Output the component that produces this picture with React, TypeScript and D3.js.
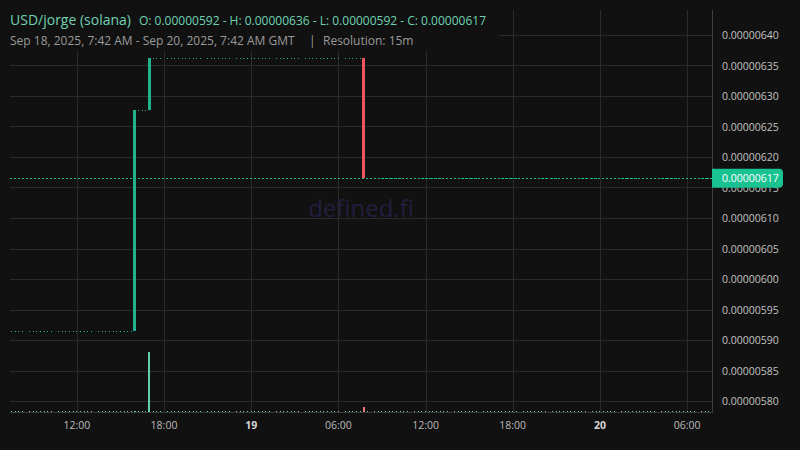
import React from "react";
import * as d3 from "d3";

// Traded 15m candles (USD per jorge); quiet intervals carry the previous close forward
const tradeTimes = [
  "2025-09-18T07:30:00Z",
  "2025-09-18T16:00:00Z",
  "2025-09-18T17:00:00Z",
  "2025-09-19T07:45:00Z",
];
const opens = [5.9152e-6, 5.9152e-6, 6.277e-6, 6.3618e-6];
const highs = [5.9152e-6, 6.277e-6, 6.3618e-6, 6.3618e-6];
const lows = [5.9152e-6, 5.9152e-6, 6.277e-6, 6.1652e-6];
const closes = [5.9152e-6, 6.277e-6, 6.3618e-6, 6.1652e-6];
const volumes = [0.3, 0.8, 96.5, 7.4];

const rangeStart = "2025-09-18T07:30:00Z";
const rangeEnd = "2025-09-20T07:30:00Z";
const resolutionMinutes = 15;

const priceTicks = [
  5.8e-6, 5.85e-6, 5.9e-6, 5.95e-6, 6.0e-6, 6.05e-6, 6.1e-6, 6.15e-6, 6.2e-6,
  6.25e-6, 6.3e-6, 6.35e-6, 6.4e-6,
];
const timeTicks = [
  "2025-09-18T12:00:00Z",
  "2025-09-18T18:00:00Z",
  "2025-09-19T00:00:00Z",
  "2025-09-19T06:00:00Z",
  "2025-09-19T12:00:00Z",
  "2025-09-19T18:00:00Z",
  "2025-09-20T00:00:00Z",
  "2025-09-20T06:00:00Z",
];
const timeTickLabels = ["12:00", "18:00", "19", "06:00", "12:00", "18:00", "20", "06:00"];
const timeTickBold = [false, false, true, false, false, false, true, false];

const W = 800;
const H = 450;
const plot = { left: 10, right: 712, top: 10, bottom: 412 };
const BG = "#111111";
const GRID = "#2b2b2b";
const UP = "#22b18f";
const DOWN = "#ef5461";
const UP_VOL = "#5fcfae";
const DOWN_VOL = "#e8727f";
const FONT = "'Open Sans', 'Noto Sans', sans-serif";

type Bar = { t: Date; o: number; h: number; l: number; c: number; v: number };

function buildBars(): Bar[] {
  const traded = new Map<number, Bar>();
  tradeTimes.forEach((s, i) => {
    const t = new Date(s);
    traded.set(+t, { t, o: opens[i], h: highs[i], l: lows[i], c: closes[i], v: volumes[i] });
  });
  const slots = d3.utcMinute.every(resolutionMinutes)!.range(
    new Date(rangeStart),
    new Date(+new Date(rangeEnd) + 1)
  );
  const bars: Bar[] = [];
  let last = closes[0];
  for (const t of slots) {
    const b = traded.get(+t);
    if (b) {
      bars.push(b);
      last = b.c;
    } else {
      bars.push({ t, o: last, h: last, l: last, c: last, v: 0 });
    }
  }
  return bars;
}

const fmt = (p: number) => p.toFixed(8);

// snap a bar of width w centred on cx to whole device pixels
function snap(cx: number, w: number) {
  const x0 = Math.round(cx - w / 2);
  const x1 = Math.round(cx + w / 2);
  return { x: x0, width: Math.max(0, x1 - x0) };
}

export default function App() {
  const bars = buildBars();
  const x = d3
    .scaleUtc()
    .domain([new Date("2025-09-18T07:24:00Z"), new Date("2025-09-20T07:43:00Z")])
    .range([plot.left, plot.right]);
  const y = d3.scaleLinear().domain([5.8e-6, 6.4e-6]).range([401, 35]);
  const vMax = d3.max(bars, (b) => b.v) ?? 1;
  const yv = d3.scaleLinear().domain([0, vMax]).range([plot.bottom, 352]);

  const first = bars[0];
  const lastBar = bars[bars.length - 1];
  const rangeHigh = d3.max(bars, (b) => b.h)!;
  const rangeLow = d3.min(bars, (b) => b.l)!;
  const lastY = y(lastBar.c);

  return (
    <svg
      width={W}
      height={H}
      style={{ position: "absolute", left: 0, top: 0, background: BG }}
      fontFamily={FONT}
    >
      <rect x={0} y={0} width={W} height={H} fill={BG} />
      <defs>
        <clipPath id="plotClip">
          <rect x={plot.left} y={plot.top} width={plot.right - plot.left} height={plot.bottom - plot.top} />
        </clipPath>
      </defs>

      {/* grid */}
      <g shapeRendering="crispEdges">
        {priceTicks.map((p) => (
          <line key={p} x1={plot.left} x2={plot.right} y1={Math.round(y(p)) + 0.5} y2={Math.round(y(p)) + 0.5} stroke={GRID} />
        ))}
        {timeTicks.map((s) => {
          const xx = Math.round(x(new Date(s))) + 0.5;
          return <line key={s} x1={xx} x2={xx} y1={plot.top} y2={plot.bottom} stroke={GRID} />;
        })}
      </g>

      {/* watermark */}
      <text
        x={(plot.left + plot.right) / 2}
        y={(plot.top + plot.bottom) / 2 - 4}
        textAnchor="middle"
        dominantBaseline="central"
        fontSize={24}
        fill="#221f3e"
      >
        defined.fi
      </text>

      <g clipPath="url(#plotClip)">
        {/* volume histogram */}
        <g shapeRendering="crispEdges">
          {bars.map((b, i) => {
            const up = b.c >= b.o;
            const hgt = Math.max(1, Math.round(plot.bottom - yv(b.v)));
            const big = b.o !== b.c;
            const s = snap(x(b.t), big ? 2 : 0.9);
            if (s.width === 0) return null;
            return (
              <rect
                key={"v" + i}
                x={s.x}
                y={plot.bottom - hgt}
                width={s.width}
                height={hgt}
                fill={up ? UP_VOL : DOWN_VOL}
              />
            );
          })}
        </g>

        {/* last price line */}
        <line
          x1={plot.left}
          x2={plot.right}
          y1={Math.round(lastY) + 0.5}
          y2={Math.round(lastY) + 0.5}
          stroke="#19c291"
          strokeDasharray="2,2"
          shapeRendering="crispEdges"
        />

        {/* candles */}
        <g shapeRendering="crispEdges">
          {bars.map((b, i) => {
            const up = b.c >= b.o;
            const big = b.o !== b.c;
            const s = snap(x(b.t), big ? 3 : 0.9);
            if (s.width === 0) return null;
            const top = Math.round(y(Math.max(b.o, b.c)));
            const bot = Math.round(y(Math.min(b.o, b.c)));
            const hgt = Math.max(1, bot - top);
            return <rect key={"c" + i} x={s.x} y={top} width={s.width} height={hgt} fill={up ? UP : DOWN} />;
          })}
        </g>
      </g>

      {/* borders */}
      <g shapeRendering="crispEdges">
        <line x1={plot.right + 0.5} x2={plot.right + 0.5} y1={plot.top} y2={plot.bottom + 1} stroke="#3e3e3e" />
        <line x1={plot.left} x2={plot.right} y1={plot.bottom + 0.5} y2={plot.bottom + 0.5} stroke="#3a3a3a" />
      </g>

      {/* price axis */}
      {priceTicks.map((p) => (
        <text key={"pt" + p} x={722} y={y(p)} dominantBaseline="central" fontSize={10.5} fill="#c2c2c2">
          {fmt(p)}
        </text>
      ))}
      <path
        d={`M${plot.right},${lastY - 9.5} h67 a4,4 0 0 1 4,4 v11 a4,4 0 0 1 -4,4 h-67 z`}
        fill="#19c291"
      />
      <text x={722} y={lastY} dominantBaseline="central" fontSize={10.5} fill="#ffffff">
        {fmt(lastBar.c)}
      </text>

      {/* time axis */}
      {timeTicks.map((s, i) => (
        <text
          key={"tt" + s}
          x={x(new Date(s))}
          y={425}
          textAnchor="middle"
          dominantBaseline="central"
          fontSize={10.5}
          fontWeight={timeTickBold[i] ? 700 : 400}
          fill={timeTickBold[i] ? "#d6d6d6" : "#bcbcbc"}
        >
          {timeTickLabels[i]}
        </text>
      ))}

      {/* legend */}
      <rect x={0} y={0} width={499} height={51} fill={BG} />
      <text x={10} y={25} fontSize={14} fill="#6fd2b2">
        USD/jorge (solana)
      </text>
      <text x={139} y={25} fontSize={12} fill="#6fd2b2">
        {`O: ${fmt(first.o)} - H: ${fmt(rangeHigh)} - L: ${fmt(rangeLow)} - C: ${fmt(lastBar.c)}`}
      </text>
      <text x={10} y={45} fontSize={12} fill="#9a9a9a">
        Sep 18, 2025, 7:42 AM - Sep 20, 2025, 7:42 AM GMT
      </text>
      <text x={309} y={45} fontSize={12} fill="#9a9a9a">
        |
      </text>
      <text x={323} y={45} fontSize={12} fill="#9a9a9a">
        Resolution: 15m
      </text>
    </svg>
  );
}
